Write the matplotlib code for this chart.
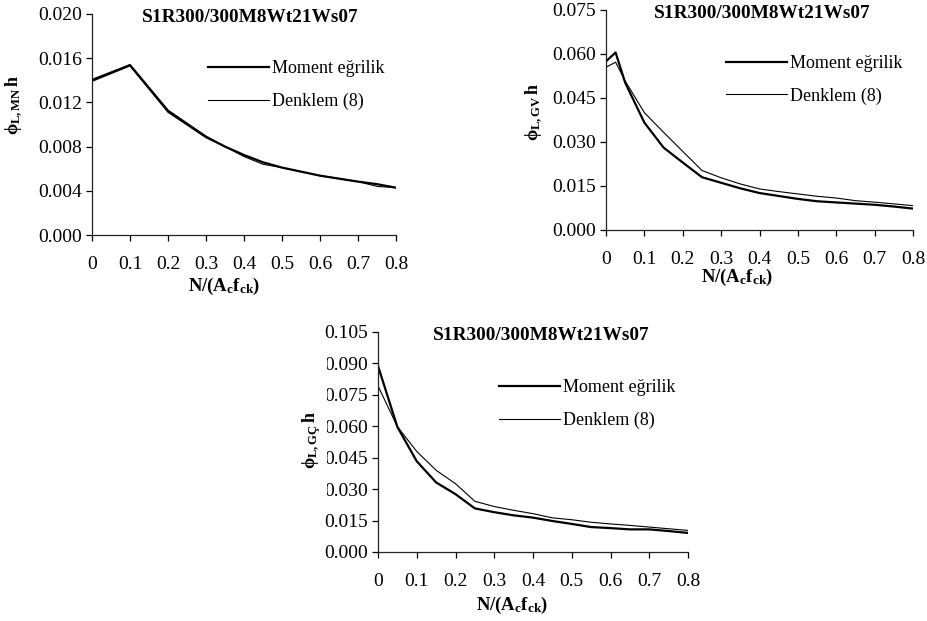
import matplotlib
matplotlib.use("Agg")
import matplotlib.pyplot as plt
from matplotlib.patches import Rectangle

plt.rcParams['font.family'] = ['Liberation Serif', 'DejaVu Serif']
plt.rcParams['mathtext.fontset'] = 'custom'
plt.rcParams['mathtext.rm'] = 'Liberation Serif'
plt.rcParams['mathtext.bf'] = 'Liberation Serif:bold'
plt.rcParams['mathtext.it'] = 'Liberation Serif:italic'

title = "S1R300/300M8Wt21Ws07"
legend_labels = ["Moment eğrilik", "Denklem (8)"]
x_ticks = [0, 0.1, 0.2, 0.3, 0.4, 0.5, 0.6, 0.7, 0.8]
x_tick_labels = ["0", "0.1", "0.2", "0.3", "0.4", "0.5", "0.6", "0.7", "0.8"]

# Panel 1 (phi_L,MN h)
x1 = [0, 0.1, 0.2, 0.3, 0.35, 0.4, 0.45, 0.5, 0.6, 0.7, 0.75, 0.8]
moment1 = [0.01403, 0.01538, 0.01125, 0.0089, 0.0080, 0.00724, 0.00658, 0.0061, 0.00537, 0.00483, 0.0046, 0.00428]
denklem1 = [0.0139, 0.0153, 0.0111, 0.0088, 0.0080, 0.0071, 0.0064, 0.0061, 0.00537, 0.00483, 0.0044, 0.00428]
y1_ticks = [0.000, 0.004, 0.008, 0.012, 0.016, 0.020]

# Panel 2 (phi_L,GV h)
x2 = [0, 0.025, 0.05, 0.1, 0.15, 0.2, 0.25, 0.3, 0.35, 0.4, 0.45, 0.5, 0.55, 0.6, 0.65, 0.7, 0.75, 0.8]
moment2 = [0.0575, 0.0605, 0.0502, 0.0366, 0.0281, 0.0230, 0.0180, 0.0161, 0.0142, 0.0126, 0.0116, 0.0106, 0.0098, 0.0094, 0.0090, 0.0086, 0.0080, 0.0073]
denklem2 = [0.0555, 0.0572, 0.0508, 0.0400, 0.0333, 0.0268, 0.0203, 0.0178, 0.0157, 0.0140, 0.0131, 0.0123, 0.0115, 0.0109, 0.0100, 0.0095, 0.0089, 0.0083]
y2_ticks = [0.000, 0.015, 0.030, 0.045, 0.060, 0.075]

# Panel 3 (phi_L,GÇ h)
x3 = [0, 0.05, 0.1, 0.15, 0.2, 0.25, 0.3, 0.35, 0.4, 0.45, 0.5, 0.55, 0.6, 0.65, 0.7, 0.75, 0.8]
moment3 = [0.0888, 0.0597, 0.0433, 0.0332, 0.0276, 0.0208, 0.0190, 0.0175, 0.0164, 0.0148, 0.0134, 0.0119, 0.0114, 0.0108, 0.0108, 0.0100, 0.0091]
denklem3 = [0.0793, 0.0598, 0.0480, 0.0390, 0.0326, 0.0242, 0.0217, 0.0199, 0.0183, 0.0163, 0.0154, 0.0142, 0.0134, 0.0127, 0.0119, 0.0111, 0.0103]
y3_ticks = [0.000, 0.015, 0.030, 0.045, 0.060, 0.075, 0.090, 0.105]

W, H = 928, 621
fig = plt.figure(figsize=(W / 100, H / 100), dpi=100)


def px_axes(x0, y0, x1_, y1_):
    return fig.add_axes([x0 / W, 1 - y1_ / H, (x1_ - x0) / W, (y1_ - y0) / H])


def panel(ax, x, mom, den, yticks, ylab, title_x, ylab_pos, xlab_pos, leg_anchor, mask=None):
    ax.plot(x, mom, color='black', lw=1.6, label=legend_labels[0])
    ax.plot(x, den, color='black', lw=0.8, label=legend_labels[1])
    ax.set_xlim(0, 0.8)
    ax.set_ylim(yticks[0], yticks[-1])
    ax.set_xticks(x_ticks)
    ax.set_xticklabels(x_tick_labels)
    ax.set_yticks(yticks)
    ax.set_yticklabels([f"{v:.3f}" for v in yticks])
    for s in ['top', 'right']:
        ax.spines[s].set_visible(False)
    for s in ['left', 'bottom']:
        ax.spines[s].set_linewidth(0.9)
        ax.spines[s].set_color('#222222')
    ax.tick_params(axis='x', direction='out', length=4, width=0.9, pad=11, labelsize=14)
    ax.tick_params(axis='y', direction='out', length=4, width=0.9, pad=3, labelsize=14)
    ax.text(title_x, 0.985, title, transform=ax.transAxes, ha='center', va='center',
            fontsize=13.9, fontweight='bold')
    if mask is not None:
        ax.add_patch(Rectangle((mask[0], mask[1]), mask[2], mask[3], transform=ax.transAxes,
                               facecolor='white', edgecolor='none', clip_on=False, zorder=5))
    ax.text(ylab_pos[0], ylab_pos[1], ylab, transform=ax.transAxes, rotation=90,
            ha='center', va='center', fontsize=13, zorder=6)
    ax.set_xlabel(r'$\mathbf{N/(A_{c}f_{ck})}$', fontsize=13.5)
    ax.xaxis.set_label_coords(*xlab_pos)
    ax.xaxis.label.set_va('center')
    ax.legend(loc='upper left', bbox_to_anchor=leg_anchor, frameon=False, fontsize=13,
              handlelength=3.4, handletextpad=0.15, labelspacing=0.85, borderaxespad=0,
              borderpad=0)


ax1 = px_axes(92, 14, 396, 235)
panel(ax1, x1, moment1, denklem1, y1_ticks, r'$\mathbf{\phi_{L,MN}\,h}$',
      0.52, (-0.257, 0.59), (0.434, -0.235), (0.38, 0.79))

ax2 = px_axes(606, 10, 913, 230)
panel(ax2, x2, moment2, denklem2, y2_ticks, r'$\mathbf{\phi_{L,GV}\,h}$',
      0.51, (-0.233, 0.536), (0.427, -0.214), (0.39, 0.795))

ax3 = px_axes(378, 332, 688, 552)
panel(ax3, x3, moment3, denklem3, y3_ticks, r'$\mathbf{\phi_{L,GÇ}\,h}$',
      0.525, (-0.213, 0.51), (0.432, -0.241), (0.39, 0.785),
      mask=(-0.33, 0.22, 0.33 - 0.165, 0.70))

fig.savefig("out.png", dpi=100)
